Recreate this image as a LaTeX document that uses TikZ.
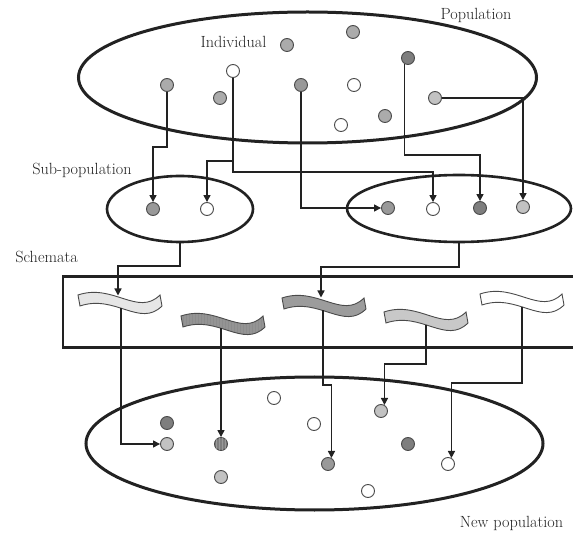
\documentclass[tikz,border=0pt]{standalone}
\usetikzlibrary{arrows.meta,patterns,shapes.geometric}
\definecolor{ink}{HTML}{222222}
\definecolor{rimgray}{HTML}{4A4A4A}
\definecolor{dotgray}{HTML}{ABABAB}
\definecolor{dotmid}{HTML}{999999}
\definecolor{dotdark}{HTML}{7E7E7E}
\definecolor{dotlight}{HTML}{C2C2C2}
\definecolor{bandpale}{HTML}{E6E6E6}
\definecolor{bandstripe}{HTML}{949494}
\definecolor{banddark}{HTML}{9C9C9C}
\definecolor{bandlight}{HTML}{C8C8C8}
\begin{document}
\begin{tikzpicture}[x=1pt,y=-1pt,
  lbl/.style={text=ink,font=\fontsize{16.2}{19}\selectfont,inner sep=0pt},
  ring/.style={ellipse,draw=ink,inner sep=0pt},
  dot/.style={circle,draw=rimgray,line width=0.9pt,minimum size=13pt,inner sep=0pt},
  grayd/.style={dot,fill=dotgray},
  midd/.style={dot,fill=dotmid},
  darkd/.style={dot,fill=dotdark},
  lightd/.style={dot,fill=dotlight},
  whited/.style={dot,fill=white},
  stripedd/.style={dot,fill=dotdark,postaction={pattern=vertical lines,pattern color=black!40}},
  conn/.style={draw=ink,line width=1.4pt},
  arr/.style={conn,-{Triangle[length=7pt,width=7pt]}},
  bandedge/.style={draw=rimgray,line width=0.9pt},
  pics/wave/.style={code={
    \path[pic actions] (0,0) .. controls (35,-12) and (60,22) .. (82,0)
      -- (84,11) .. controls (62,33) and (37,-1) .. (2,11) -- cycle;
  }}
]
\clip (0,0) rectangle (573,534);

% enclosing shapes
\node[ring,line width=3pt,minimum width=458pt,minimum height=131pt] (pop) at (307.5,77.5) {};
\node[ring,line width=2.6pt,minimum width=146pt,minimum height=66pt] (sub1) at (180,209) {};
\node[ring,line width=2.6pt,minimum width=224pt,minimum height=67pt] (sub2) at (459,208.5) {};
\node[ring,line width=3pt,minimum width=457pt,minimum height=133pt] (newpop) at (314.5,443.5) {};
\draw[draw=ink,line width=2.4pt] (63,276.5) rectangle (600,347.5);

% labels
\node[lbl] (tpop) at (476,15) {Population};
\node[lbl] (tind) at (233.5,42) {Individual};
\node[lbl] (tsub) at (82,170) {Sub-population};
\node[lbl] (tsch) at (46.5,257) {Schemata};
\node[lbl] (tnew) at (511.5,523) {New population};

% schemata bands
\pic[bandedge,fill=bandpale] at (78,295) {wave};
\pic[fill=bandstripe] at (181,316) {wave};
\pic[bandedge,pattern=vertical lines,pattern color=black!45] at (181,316) {wave};
\pic[bandedge,fill=banddark] at (282,298) {wave};
\pic[bandedge,fill=bandlight] at (384,312) {wave};
\pic[bandedge,fill=white] at (480,294) {wave};

% population individuals
\node[grayd] (pA) at (167,85) {};
\node[grayd] (pB) at (220,98) {};
\node[grayd] (pC) at (287,45) {};
\node[grayd] (pD) at (353,32) {};
\node[whited] (pW) at (233,71) {};
\node[midd] (pM) at (301,85) {};
\node[whited] (pE) at (354,85) {};
\node[whited] (pF) at (341,125) {};
\node[grayd] (pG) at (385,116) {};
\node[darkd] (pK) at (408,58) {};
\node[lightd] (pL) at (435,98) {};

% sub-population individuals
\node[midd] (sA) at (153,209) {};
\node[whited] (sB) at (207,209) {};
\node[midd] (sC) at (388,208) {};
\node[whited] (sD) at (433,209) {};
\node[darkd] (sE) at (480,208) {};
\node[lightd] (sF) at (523,207) {};

% new population individuals
\node[darkd] (nA) at (167,423) {};
\node[lightd] (nB) at (167,444) {};
\node[stripedd] (nC) at (221,444) {};
\node[lightd] (nD) at (221,477) {};
\node[whited] (nE) at (274,398) {};
\node[whited] (nF) at (314,424) {};
\node[midd] (nG) at (328,464) {};
\node[lightd] (nH) at (381,411) {};
\node[darkd] (nI) at (408,444) {};
\node[whited] (nJ) at (448,464) {};
\node[whited] (nK) at (368,491) {};

% bends and band attachment points
\coordinate (b1) at (167,147);
\coordinate (b2) at (233,161);
\coordinate (b3) at (233,172);
\coordinate (b4) at (480,155);
\coordinate (b6) at (118,266);
\coordinate (b7) at (321,267);
\coordinate (b10) at (323,385);
\coordinate (b11) at (426,364);
\coordinate (b12) at (522,383);
\coordinate (w1t) at (118,295.5);
\coordinate (w3t) at (321,297.5);
\coordinate (w1b) at (121,308);
\coordinate (w2b) at (221,328.5);
\coordinate (w3b) at (323,310.5);
\coordinate (w4b) at (426,324.7);
\coordinate (w5b) at (522,306.7);

% selection into sub-populations
\draw[arr] (pA) -- (b1) -| (sA);
\draw[arr] (pW) -- (b2) -| (sB);
\draw[arr] (b2) -- (b3) -| (sD);
\draw[arr] (pM) |- (sC);
\draw[arr] (pK.240) |- (b4) -- (sE);
\draw[arr] (pL) -| (sF);

% schemata extracted from sub-populations
\draw[arr] (sub1.south) |- (b6) -- (w1t);
\draw[arr] (sub2.south) |- (b7) -- (w3t);

% schemata passed on to the new population
\draw[arr] (w1b) |- (nB);
\draw[arr] (w2b) -- (nC);
\draw[arr] (w3b) -- (b10) -| (nG.60);
\draw[arr] (w4b) -- (b11) -| (nH.60);
\draw[arr] (w5b) -- (b12) -| (nJ.60);
\end{tikzpicture}
\end{document}
